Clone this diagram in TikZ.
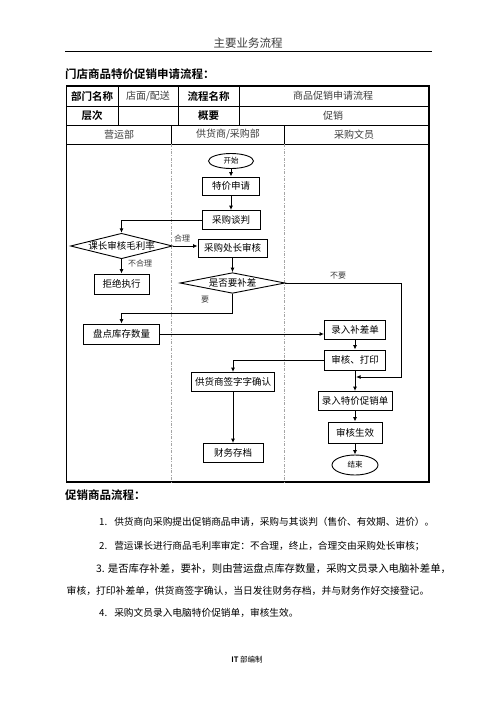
\documentclass[tikz,border=0pt]{standalone}
\usepackage{fontspec}
\setmainfont{Noto Sans CJK SC}[BoldFont={Noto Sans CJK SC Bold}]
\usepackage{tikz}
\usetikzlibrary{arrows.meta,shapes.geometric}
\definecolor{texto}{RGB}{60,60,60}
\definecolor{carril}{RGB}{165,165,165}

\tikzset{
  box/.style={draw, line width=0.9pt, inner sep=1pt, font=\fontsize{9.5}{11}\selectfont},
  choice/.style={draw, diamond, aspect=4, inner sep=0pt, line width=0.9pt, font=\fontsize{9.5}{11}\selectfont},
  oval/.style={draw, ellipse, inner sep=0pt, line width=0.9pt, font=\fontsize{7.5}{9}\selectfont},
  flow/.style={line width=0.9pt, -{Latex[length=4.5pt,width=4pt]}},
  note/.style={inner sep=0pt, font=\fontsize{8}{9}\selectfont, text=texto},
  cell/.style={inner sep=0pt, font=\fontsize{10}{12}\selectfont, text=texto},
  head/.style={inner sep=0pt, font=\bfseries\fontsize{10.5}{12}\selectfont},
  para/.style={anchor=west, inner sep=0pt, font=\fontsize{9.7}{11}\selectfont},
  lane/.style={draw=carril, line width=0.5pt, dash pattern=on 3pt off 1.5pt on 0.8pt off 1.5pt},
}

\begin{document}
\begin{tikzpicture}[x=1pt, y=-1pt]
  \useasboundingbox (0,0) rectangle (496,702);
  % cabecera de la pagina
  \node[font=\fontsize{11.5}{13}\selectfont, text=texto] (pghead) at (248,43) {主要业务流程};
  \draw[line width=0.6pt] (65,51.5) -- (432,51.5);
  \node[anchor=west, inner sep=0pt, font=\bfseries\fontsize{11.5}{13}\selectfont] (title) at (65,74) {门店商品特价促销申请流程：};

  % tabla
  \draw[line width=1.1pt] (66.5,86) rectangle (429,482);
  \draw[line width=0.8pt] (66.5,106) -- (429,106) (66.5,125) -- (429,125) (66.5,144) -- (429,144);
  \draw[line width=0.8pt] (118,86) -- (118,125) (178,86) -- (178,125) (239,86) -- (239,125);
  \draw[line width=0.8pt] (171,125) -- (171,144) (284,125) -- (284,144);
  \draw[lane] (171,144) -- (171,482) (284,144) -- (284,482);
  \node[head] (deptk) at (92,96) {部门名称};
  \node[cell] (deptv) at (148,96) {店面/配送};
  \node[head] (prock) at (208.5,96) {流程名称};
  \node[cell] (procv) at (333,96) {商品促销申请流程};
  \node[head] (levelk) at (92,115.5) {层次};
  \node[head] (sumk) at (208.5,115.5) {概要};
  \node[cell] (sumv) at (333,115.5) {促销};
  \node[cell] (lane1) at (119,134.5) {营运部};
  \node[cell] (lane2) at (228,134.5) {供货商/采购部};
  \node[cell] (lane3) at (354,134.5) {采购文员};

  % pasos
  \node[oval, minimum width=45, minimum height=15] (start) at (231,161) {开始};
  \node[box, minimum width=57, minimum height=18] (apply) at (231,186) {特价申请};
  \node[box, minimum width=58, minimum height=19] (nego) at (231,220) {采购谈判};
  \node[choice, minimum width=102, minimum height=25] (ratio) at (121.5,246) {课长审核毛利率};
  \node[box, minimum width=69, minimum height=18] (chief) at (232.5,248) {采购处长审核};
  \node[box, minimum width=55, minimum height=20] (reject) at (121.5,284) {拒绝执行};
  \node[choice, minimum width=105, minimum height=20] (diff) at (232.5,283) {是否要补差};
  \node[box, minimum width=76, minimum height=20] (count) at (121.5,334) {盘点库存数量};
  \node[box, minimum width=61, minimum height=19] (diffbill) at (355,330) {录入补差单};
  \node[box, minimum width=61, minimum height=20] (check) at (355,360) {审核、打印};
  \node[box, minimum width=83, minimum height=19] (sign) at (233,382) {供货商签字字确认};
  \node[box, minimum width=60, minimum height=19] (archive) at (233,453) {财务存档};
  \node[box, minimum width=74, minimum height=19] (promo) at (355,401) {录入特价促销单};
  \node[box, minimum width=54, minimum height=21] (valid) at (355,432.5) {审核生效};
  \node[oval, minimum width=46, minimum height=20] (finish) at (355,465) {结束};
  \coordinate (join) at (356,377);

  \node[note] (ok) at (182,238) {合理};
  \node[note] (notok) at (140,263) {不合理};
  \node[note] (yes) at (205,300) {要};
  \node[note] (no) at (338,276) {不要};

  % conectores
  \draw[flow] (start) -- (apply);
  \draw[flow] (apply) -- (nego);
  \draw[flow] (nego.west) -| (ratio.north);
  \draw[flow] (ratio.east) -- (ratio.east -| chief.west);
  \draw[flow] (ratio.south) -- (reject.north);
  \draw[flow] (chief) -- (diff);
  \draw[flow] (diff.east) -- ++(116,0) |- (join);
  \draw[flow] (diff.south) -- ++(0,20) -| (count.north);
  \draw[flow] (count.east) -- (count.east -| diffbill.west);
  \draw[flow] (diffbill) -- (check);
  \draw[flow] (check.west) -| (sign.north);
  \draw[flow] (check) -- (promo);
  \draw[flow] (sign) -- (archive);
  \draw[flow] (promo) -- (valid);
  \draw[flow] (valid) -- (finish);

  % texto
  \node[anchor=west, inner sep=0pt, font=\bfseries\fontsize{11.5}{13}\selectfont] (subtitle) at (65,495) {促销商品流程：};
  \node[para] (step1) at (99,522) {1.\hspace{7pt}供货商向采购提出促销商品申请，采购与其谈判（售价、有效期、进价）。};
  \node[para] (step2) at (99,546) {2.\hspace{7pt}营运课长进行商品毛利率审定：不合理，终止，合理交由采购处长审核；};
  \node[para, font=\fontsize{10.4}{12}\selectfont] (step3a) at (96,569) {3.\hspace{3pt}是否库存补差，要补，则由营运盘点库存数量，采购文员录入电脑补差单，};
  \node[para, font=\fontsize{9.8}{11}\selectfont] (step3b) at (66.5,591) {审核，打印补差单，供货商签字确认，当日发往财务存档，并与财务作好交接登记。};
  \node[para] (step4) at (99,613) {4.\hspace{7pt}采购文员录入电脑特价促销单，审核生效。};
  \node[font=\fontsize{7.5}{9}\selectfont] (footer) at (247,660) {\textbf{IT} 部编制};
\end{tikzpicture}
\end{document}
